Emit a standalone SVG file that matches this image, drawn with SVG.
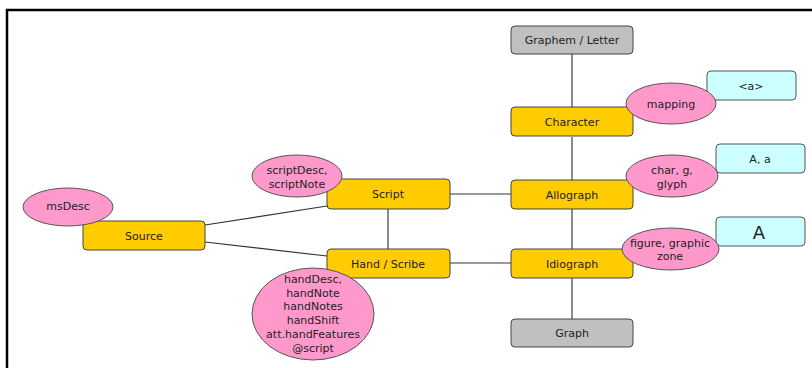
<svg xmlns="http://www.w3.org/2000/svg" width="812" height="368" viewBox="0 0 812 368">
<style>
text{font-family:"DejaVu Sans","Liberation Sans",sans-serif;font-size:11px;fill:#222;text-anchor:middle;dominant-baseline:central}
.gold{fill:#FFCC00;stroke:#444;stroke-width:1}
.gray{fill:#C0C0C0;stroke:#444;stroke-width:1}
.cyan{fill:#CCFFFF;stroke:#555;stroke-width:1}
.pink{fill:#FF99CC;stroke:#555;stroke-width:1}
.c{stroke:#333;stroke-width:1.2;fill:none}
.v{stroke:#666;stroke-width:1.5;fill:none}
</style>
<rect width="812" height="368" fill="#fff"/>
<path d="M7 368 V10 H812" fill="none" stroke="#000" stroke-width="2.5"/>
<g id="connectors">
<line class="v" x1="572" y1="54" x2="572" y2="107"/>
<line class="v" x1="572" y1="137" x2="572" y2="180"/>
<line class="v" x1="572" y1="209" x2="572" y2="249"/>
<line class="v" x1="572" y1="278" x2="572" y2="319"/>
<line class="v" x1="388" y1="209" x2="388" y2="249"/>
<line class="c" x1="450" y1="194" x2="511" y2="194"/>
<line class="c" x1="450" y1="263" x2="511" y2="263"/>
<line class="c" x1="205" y1="225" x2="327" y2="206"/>
<line class="c" x1="205" y1="242" x2="327" y2="256"/>
</g>
<g id="graphem"><rect class="gray" x="511" y="26" width="122" height="28" rx="4"/><text x="572" y="40">Graphem / Letter</text></g>
<g id="character"><rect class="gold" x="511" y="107" width="122" height="29" rx="4"/><text x="572" y="122">Character</text></g>
<g id="allograph"><rect class="gold" x="511" y="180" width="122" height="29" rx="4"/><text x="572" y="195">Allograph</text></g>
<g id="idiograph"><rect class="gold" x="511" y="249" width="122" height="29" rx="4"/><text x="572" y="264">Idiograph</text></g>
<g id="graph"><rect class="gray" x="511" y="319" width="122" height="28" rx="4"/><text x="572" y="333">Graph</text></g>
<g id="script"><rect class="gold" x="327" y="179" width="123" height="30" rx="4"/><text x="388" y="194">Script</text></g>
<g id="hand"><rect class="gold" x="327" y="249" width="123" height="29" rx="4"/><text x="388" y="264">Hand / Scribe</text></g>
<g id="source"><rect class="gold" x="83" y="221" width="122" height="29" rx="4"/><text x="144" y="236">Source</text></g>
<g id="a-tag"><rect class="cyan" x="707" y="71" width="89" height="29" rx="4"/><text x="751" y="86">&lt;a&gt;</text></g>
<g id="aa"><rect class="cyan" x="716" y="144" width="89" height="29" rx="4"/><text x="760" y="159">A, a</text></g>
<g id="bigA"><rect class="cyan" x="716" y="217" width="89" height="29" rx="4"/><text x="759" y="232" style="font-size:18px">A</text></g>
<g id="mapping"><ellipse class="pink" cx="671" cy="103.5" rx="45" ry="20.5"/><text x="671" y="104">mapping</text></g>
<g id="charg"><ellipse class="pink" cx="672" cy="176" rx="46" ry="21"/><text x="672" y="170">char, g,</text><text x="672" y="184">glyph</text></g>
<g id="figure"><ellipse class="pink" cx="670.5" cy="249" rx="48.5" ry="21"/><text x="670" y="243">figure, graphic</text><text x="670" y="256">zone</text></g>
<g id="scriptdesc"><ellipse class="pink" cx="297" cy="176" rx="45" ry="21"/><text x="297" y="170">scriptDesc,</text><text x="297" y="184">scriptNote</text></g>
<g id="msdesc"><ellipse class="pink" cx="68" cy="207" rx="45" ry="19"/><text x="68" y="206">msDesc</text></g>
<g id="handdesc"><ellipse class="pink" cx="313" cy="314" rx="61" ry="46"/><text x="313" y="279">handDesc,</text><text x="313" y="293">handNote</text><text x="313" y="306">handNotes</text><text x="313" y="320">handShift</text><text x="313" y="334">att.handFeatures</text><text x="313" y="348">@script</text></g>
</svg>
